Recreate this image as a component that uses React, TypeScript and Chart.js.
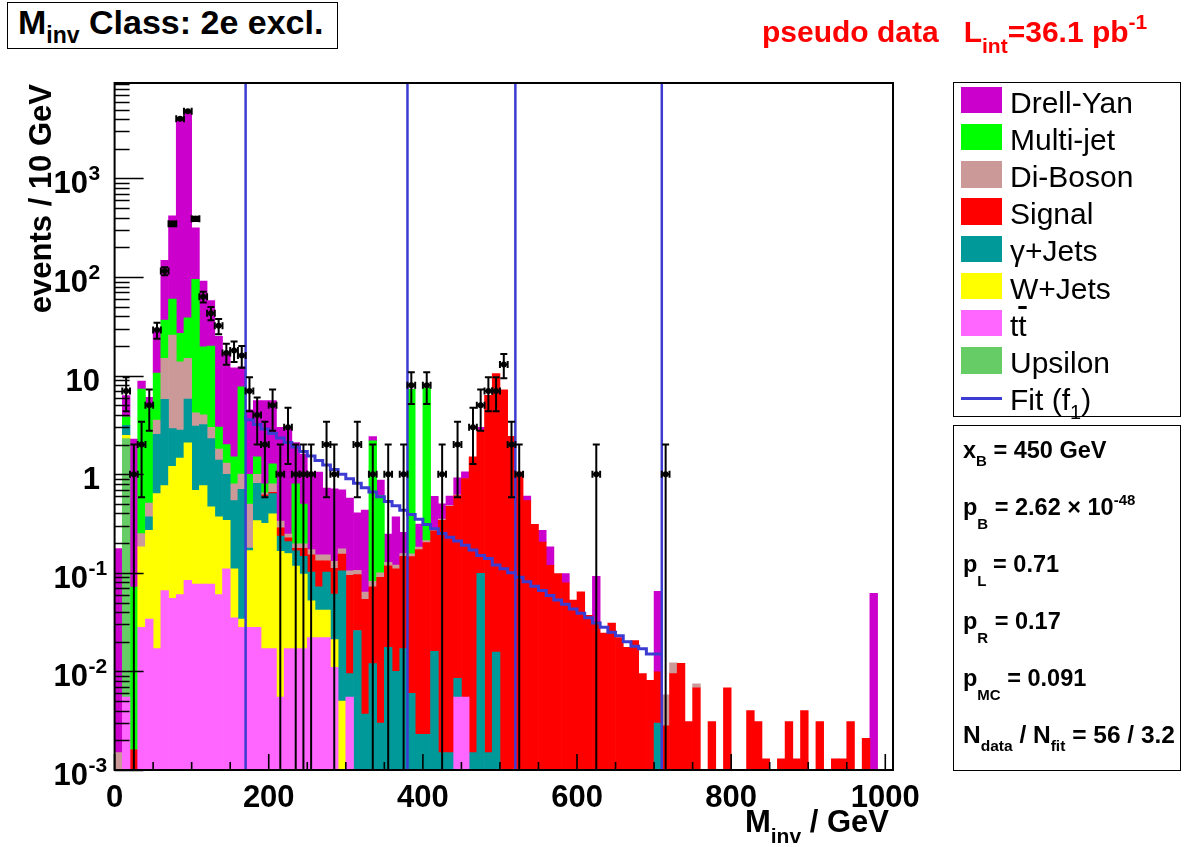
import React, { useEffect, useRef } from 'react';
import { Chart, registerables } from 'chart.js';

Chart.register(...registerables);

const FONT = '"Liberation Sans", Arial, Helvetica, sans-serif';
const BLUE = '#3c3cd2';

// 10 GeV bins, lower edges 0 ... 1000 GeV
const binLowEdges = Array.from({ length: 101 }, (_, i) => i * 10);
const X_MAX = 1010;
const Y_MIN = 1e-3;
const Y_MAX = 9300;

// Expected events per bin for each process
const ttbar = [
  0, 0.0055, 0, 0.028, 0.034, 0.017, 0.066, 0.055, 0.06, 0.084,
  0.077, 0.077, 0.077, 0.06, 0.11, 0.035, 0.028, 0.028, 0.028, 0.017,
  0.017, 0.0055, 0.017, 0.017, 0.017, 0.022, 0.022, 0.022, 0.011, 0,
  0.0055, 0, 0, 0, 0, 0, 0, 0, 0, 0,
  0, 0, 0, 0, 0.0055, 0.0055, 0, 0, 0, 0,
  0, 0, 0, 0, 0, 0, 0, 0, 0, 0,
  0, 0, 0, 0, 0, 0, 0, 0, 0, 0,
  0, 0, 0, 0, 0, 0, 0, 0, 0, 0,
  0, 0, 0, 0, 0, 0, 0, 0, 0, 0,
  0, 0, 0, 0, 0, 0, 0, 0, 0, 0,
  0,
];
const upsilon = [
  0, 2.29, 0, 0, 0, 0, 0, 0, 0, 0,
  0, 0, 0, 0, 0, 0, 0, 0, 0, 0,
  0, 0, 0, 0, 0, 0, 0, 0, 0, 0,
  0, 0, 0, 0, 0, 0, 0, 0, 0, 0,
  0, 0, 0, 0, 0, 0, 0, 0, 0, 0,
  0, 0, 0, 0, 0, 0, 0, 0, 0, 0,
  0, 0, 0, 0, 0, 0, 0, 0, 0, 0,
  0, 0, 0, 0, 0, 0, 0, 0, 0, 0,
  0, 0, 0, 0, 0, 0, 0, 0, 0, 0,
  0, 0, 0, 0, 0, 0, 0, 0, 0, 0,
  0,
];
const wJets = [
  0, 0.19, 0, 0.155, 0.236, 0.62, 0.7, 1.15, 1.4, 2.0,
  0.61, 0.69, 0.39, 0.31, 0.23, 0.075, 0.006, 0.14, 0.31, 0.3,
  0.38, 0.16, 0.14, 0.1, 0.08, 0.03, 0.02, 0.02, 0.01, 0.005,
  0, 0, 0, 0, 0, 0, 0, 0, 0, 0,
  0, 0, 0, 0, 0, 0, 0, 0, 0, 0,
  0, 0, 0, 0, 0, 0, 0, 0, 0, 0,
  0, 0, 0, 0, 0, 0, 0, 0, 0, 0,
  0, 0, 0, 0, 0, 0, 0, 0, 0, 0,
  0, 0, 0, 0, 0, 0, 0, 0, 0, 0,
  0, 0, 0, 0, 0, 0, 0, 0, 0, 0,
  0,
];
const gammaJets = [
  0, 0.65, 0, 0, 0.1, 1.9, 5.0, 1.7, 1.35, 3.7,
  2.4, 2.43, 1.83, 1.02, 0.66, 0.43, 0.67, 0.01, 0.47, 0.28,
  0.24, 0.07, 0.05, 0.05, 0.05, 0.05, 0.03, 0.06, 0.04, 0.1,
  0.004, 0.026, 0.0037, 0.012, 0.003, 0.0176, 0.01, 0.017, 0.006, 0.0023,
  0.0023, 0.016, 0.0015, 0.0015, 0.003, 0, 0.0015, 0.099, 0.0015, 0.0157,
  0, 0, 0, 0, 0, 0, 0, 0, 0, 0,
  0, 0, 0, 0, 0, 0, 0, 0, 0, 0,
  0.003, 0, 0, 0, 0, 0, 0, 0, 0, 0,
  0, 0, 0, 0, 0, 0, 0, 0, 0, 0,
  0, 0, 0, 0, 0, 0, 0, 0, 0, 0,
  0,
];
const signal = [
  0, 0, 0.0016, 0, 0, 0, 0, 0, 0, 0,
  0, 0, 0, 0, 0, 0, 0, 0, 0, 0.02,
  0.02, 0.05, 0.02, 0.01, 0.03, 0.05, 0.06, 0.03, 0.05, 0.05,
  0.085, 0.07, 0.05, 0.06, 0.087, 0.1, 0.1, 0.13, 0.14, 0.17,
  0.2, 0.25, 0.34, 0.47, 0.6, 0.9, 1.5, 2.7, 6.3, 10.5,
  7.2, 2.43, 1.05, 0.54, 0.31, 0.205, 0.119, 0.098, 0.079, 0.053,
  0.064, 0.037, 0.032, 0.0245, 0.031, 0.022, 0.0176, 0.0205, 0.0095, 0.0081,
  0.0069, 0.0028, 0.0095, 0.0121, 0.0031, 0.0068, 0, 0.0031, 0, 0.0068,
  0, 0, 0.004, 0.0031, 0.0013, 0, 0.0013, 0.0031, 0.0013, 0.004,
  0, 0.0031, 0, 0.0013, 0.0013, 0.0031, 0, 0.0021, 0, 0,
  0,
];
const diBoson = [
  0.0015, 0, 0, 0.067, 0.14, 1.0, 9.2, 22.9, 11, 9.2,
  1.1, 0.8, 0.7, 0.41, 0.3, 0.26, 0.3, 0.32, 0.19, 0.03,
  0.14, 0.05, 0.02, 0.02, 0.02, 0.02, 0.02, 0.02, 0.02, 0.02,
  0.01, 0.01, 0.01, 0.01, 0.01, 0.01, 0.01, 0.01, 0.01, 0.01,
  0.01, 0.01, 0.01, 0.01, 0.01, 0, 0, 0, 0, 0,
  0, 0, 0, 0, 0, 0, 0, 0, 0, 0,
  0, 0, 0, 0, 0, 0, 0, 0, 0, 0,
  0, 0.003, 0.0027, 0, 0, 0.0007, 0, 0, 0, 0,
  0, 0, 0, 0, 0, 0, 0, 0, 0, 0,
  0, 0, 0, 0, 0, 0, 0, 0, 0, 0,
  0,
];
const multiJet = [
  0, 0.68, 0.07, 7.05, 4.5, 7.1, 21.6, 34, 13, 23.6,
  90.8, 15.6, 16.9, 1.2, 0.7, 0.7, 6.7, 0.5, 0.5, 0.15,
  0.48, 0, 0, 0.6, 0.3, 0, 0, 0, 0, 0,
  0, 0, 0, 2.1, 0.51, 0, 0, 0, 7.1, 0,
  7.3, 0, 0, 0, 0, 0, 0, 0, 0, 0,
  0, 0, 0, 0, 0, 0, 0, 0, 0, 0,
  0, 0, 0, 0, 0, 0, 0, 0, 0, 0,
  0, 0, 0, 0, 0, 0, 0, 0, 0, 0,
  0, 0, 0, 0, 0, 0, 0, 0, 0, 0,
  0, 0, 0, 0, 0, 0, 0, 0, 0, 0,
  0,
];
const drellYan = [
  0.175, 2.48, 2.2, 1.5, 1.0, 19.4, 111, 357, 4073, 4711,
  221, 71.4, 38, 22, 15, 10.5, 4.6, 3.5, 4.1, 4.8,
  4.3, 2.66, 2.76, 1.3, 1.1, 0.88, 0.9, 0.57, 0.58, 0.52,
  0.47, 0.3, 0.37, 0.23, 0.26, 0.12, 0.25, 0.1, 0.05, 0.13,
  0.05, 0.32, 0.15, 0.12, 0.3, 0.15, 0, 0.2, 0, 0,
  0, 0, 0, 0.06, 0, 0.065, 0.064, 0, 0.019, 0,
  0, 0, 0.06, 0, 0, 0, 0, 0, 0, 0,
  0.055, 0, 0, 0, 0, 0, 0, 0, 0, 0,
  0, 0, 0, 0, 0, 0, 0, 0, 0, 0,
  0, 0, 0, 0, 0, 0, 0, 0, 0.062, 0,
  0,
];

// Pseudo-data counts per bin
const dataCounts = [
  0, 7, 1, 2, 5, 29, 115, 347, 4040, 4800,
  390, 63, 43, 32, 17, 18, 16, 7, 4, 2,
  5, 1, 3, 1, 1, 1, 0, 2, 1, 0,
  0, 2, 0, 1, 0, 1, 0, 1, 8, 0,
  8, 0, 1, 0, 2, 0, 3, 5, 7, 7,
  13, 2, 1, 0, 0, 0, 0, 0, 0, 0,
  0, 0, 1, 0, 0, 0, 0, 0, 0, 0,
  0, 1, 0, 0, 0, 0, 0, 0, 0, 0,
  0, 0, 0, 0, 0, 0, 0, 0, 0, 0,
  0, 0, 0, 0, 0, 0, 0, 0, 0, 0,
  0,
];

// Fitted function f1 per bin, 170 - 710 GeV
const fitLowEdges = binLowEdges.slice(17, 71);
const fitValues = [
  3.95, 3.56, 3.2, 2.88, 2.59, 2.33, 2.1, 1.89, 1.7, 1.53,
  1.38, 1.24, 1.12, 1.0, 0.9, 0.81, 0.73, 0.66, 0.59, 0.53,
  0.48, 0.43, 0.39, 0.35, 0.31, 0.28, 0.25, 0.23, 0.21, 0.19,
  0.17, 0.15, 0.14, 0.12, 0.11, 0.1, 0.09, 0.081, 0.073, 0.066,
  0.059, 0.053, 0.048, 0.043, 0.039, 0.035, 0.031, 0.028, 0.025, 0.023,
  0.02, 0.018, 0.017, 0.015,
];
const fitEnd = 710;

// Region boundaries drawn as vertical lines
const boundaries = [170, 380, 520, 710];

const xTickLabels = [0, 200, 400, 600, 800, 1000];
const yDecades = [-3, -2, -1, 0, 1, 2, 3];

// Stack from bottom to top
const stackSeries = [
  { label: 'ttbar', color: '#ff66ff', values: ttbar },
  { label: 'Upsilon', color: '#66cc66', values: upsilon },
  { label: 'W+Jets', color: '#ffff00', values: wJets },
  { label: 'γ+Jets', color: '#009999', values: gammaJets },
  { label: 'Signal', color: '#ff0000', values: signal },
  { label: 'Di-Boson', color: '#cc9999', values: diBoson },
  { label: 'Multi-jet', color: '#00ff00', values: multiJet },
  { label: 'Drell-Yan', color: '#cc00cc', values: drellYan },
];

const FIT_INDEX = stackSeries.length;
const DATA_INDEX = stackSeries.length + 1;

const legendEntries = [
  { key: 'dy', color: '#cc00cc', text: 'Drell-Yan' },
  { key: 'mj', color: '#00ff00', text: 'Multi-jet' },
  { key: 'db', color: '#cc9999', text: 'Di-Boson' },
  { key: 'sig', color: '#ff0000', text: 'Signal' },
  { key: 'gj', color: '#009999', text: 'γ+Jets' },
  { key: 'wj', color: '#ffff00', text: 'W+Jets' },
  { key: 'tt', color: '#ff66ff', text: 'tt' },
  { key: 'ups', color: '#66cc66', text: 'Upsilon' },
];

const rootStylePlugin = {
  id: 'rootStyle',
  beforeDatasetDraw(chart: any, args: any) {
    if (args.index !== FIT_INDEX) return;
    const { ctx, chartArea: a, scales } = chart;
    ctx.save();
    ctx.strokeStyle = BLUE;
    ctx.lineWidth = 2.5;
    for (const b of boundaries) {
      const px = scales.x.getPixelForValue(b);
      ctx.beginPath();
      ctx.moveTo(px, a.top);
      ctx.lineTo(px, a.bottom);
      ctx.stroke();
    }
    ctx.restore();
  },
  afterDatasetDraw(chart: any, args: any) {
    if (args.index !== DATA_INDEX) return;
    const { ctx, chartArea: a, scales } = chart;
    const x = scales.x;
    const y = scales.y;
    ctx.save();
    ctx.beginPath();
    ctx.rect(a.left, a.top, a.right - a.left, a.bottom - a.top);
    ctx.clip();
    ctx.strokeStyle = '#000';
    ctx.lineWidth = 2;
    dataCounts.forEach((n, i) => {
      if (!n) return;
      const err = Math.sqrt(n);
      const lo = binLowEdges[i];
      const cx = x.getPixelForValue(lo + 5);
      const xl = x.getPixelForValue(lo);
      const xr = x.getPixelForValue(lo + 10);
      const cy = y.getPixelForValue(n);
      const top = y.getPixelForValue(n + err);
      const lowVal = n - err;
      const bot = lowVal > 0 ? y.getPixelForValue(lowVal) : a.bottom;
      ctx.beginPath();
      ctx.moveTo(cx, top);
      ctx.lineTo(cx, bot);
      ctx.moveTo(xl, cy);
      ctx.lineTo(xr, cy);
      ctx.moveTo(cx - 3.5, top);
      ctx.lineTo(cx + 3.5, top);
      if (lowVal > 0) {
        ctx.moveTo(cx - 3.5, bot);
        ctx.lineTo(cx + 3.5, bot);
      }
      ctx.moveTo(xl, cy - 3.5);
      ctx.lineTo(xl, cy + 3.5);
      ctx.moveTo(xr, cy - 3.5);
      ctx.lineTo(xr, cy + 3.5);
      ctx.stroke();
    });
    ctx.restore();
  },
  afterDraw(chart: any) {
    const { ctx, chartArea: a, scales } = chart;
    const x = scales.x;
    const y = scales.y;
    ctx.save();
    // ticks
    ctx.strokeStyle = '#000';
    ctx.lineWidth = 1.6;
    ctx.beginPath();
    for (const e of yDecades) {
      for (let m = 1; m <= 9; m++) {
        const v = m * Math.pow(10, e);
        if (v > Y_MAX) break;
        const py = Math.round(y.getPixelForValue(v)) + 0.5;
        const len = m === 1 ? 29 : 15;
        ctx.moveTo(a.left, py);
        ctx.lineTo(a.left + len, py);
      }
    }
    for (let v = 0; v <= 1000; v += 50) {
      const px = x.getPixelForValue(v);
      const len = v % 200 === 0 ? 16 : 8;
      ctx.moveTo(px, a.bottom);
      ctx.lineTo(px, a.bottom - len);
    }
    ctx.stroke();
    // frame
    ctx.lineWidth = 2;
    ctx.strokeRect(a.left, a.top, a.right - a.left, a.bottom - a.top);

    // tick labels
    ctx.fillStyle = '#000';
    ctx.textBaseline = 'alphabetic';
    ctx.font = `bold 31px ${FONT}`;
    ctx.textAlign = 'center';
    for (const v of xTickLabels) {
      ctx.fillText(String(v), x.getPixelForValue(v), 807);
    }
    for (const e of yDecades) {
      const py = y.getPixelForValue(Math.pow(10, e));
      const base = py + 15;
      if (e === 0 || e === 1) {
        ctx.font = `bold 31px ${FONT}`;
        ctx.textAlign = 'right';
        ctx.fillText(e === 0 ? '1' : '10', 100, base);
      } else {
        ctx.font = `bold 31px ${FONT}`;
        ctx.textAlign = 'right';
        ctx.fillText('10', 88, base);
        ctx.font = `bold 21px ${FONT}`;
        ctx.textAlign = 'left';
        ctx.fillText(String(e), 88.5, base - 13);
      }
    }

    // x axis title, right aligned
    ctx.textAlign = 'left';
    ctx.font = `bold 31px ${FONT}`;
    const wM = ctx.measureText('M').width;
    const wRest = ctx.measureText(' / GeV').width;
    ctx.font = `bold 21px ${FONT}`;
    const wSub = ctx.measureText('inv').width;
    const xEnd = 889;
    const x0 = xEnd - wM - wSub - wRest;
    ctx.font = `bold 31px ${FONT}`;
    ctx.fillText('M', x0, 832);
    ctx.font = `bold 21px ${FONT}`;
    ctx.fillText('inv', x0 + wM, 843);
    ctx.font = `bold 31px ${FONT}`;
    ctx.fillText(' / GeV', x0 + wM + wSub, 832);

    // y axis title
    ctx.save();
    ctx.translate(51, 84);
    ctx.rotate(-Math.PI / 2);
    ctx.textAlign = 'right';
    ctx.font = `bold 31px ${FONT}`;
    ctx.fillText('events / 10 GeV', 0, 0);
    ctx.restore();

    ctx.restore();
  },
};

function TextAt(props: {
  x: number;
  baseline: number;
  size: number;
  bold?: boolean;
  color?: string;
  children: React.ReactNode;
}) {
  const { x, baseline, size, bold, color, children } = props;
  return (
    <div
      style={{
        position: 'absolute',
        left: x,
        top: baseline - 0.8465 * size,
        fontSize: size,
        lineHeight: `${size}px`,
        fontWeight: bold ? 'bold' : 'normal',
        fontFamily: FONT,
        color: color || '#000',
        whiteSpace: 'pre',
      }}
    >
      {children}
    </div>
  );
}

function Shift(props: { size: number; dy: number; children: React.ReactNode }) {
  return (
    <span style={{ fontSize: props.size, position: 'relative', top: props.dy, lineHeight: '0' }}>
      {props.children}
    </span>
  );
}

export default function App() {
  const canvasRef = useRef<HTMLCanvasElement | null>(null);

  useEffect(() => {
    const canvas = canvasRef.current;
    if (!canvas) return;
    const binCenters = binLowEdges.map((e) => e + 5);
    const barSets = stackSeries.map((s) => ({
      type: 'bar' as const,
      label: s.label,
      data: s.values.map((v, i) => ({ x: binCenters[i], y: v })),
      backgroundColor: s.color,
      borderWidth: 0,
      barPercentage: 1,
      categoryPercentage: 1,
      stack: 'mc',
      order: 2,
    }));
    const fitPoints = fitLowEdges.map((e, i) => ({ x: e, y: fitValues[i] }));
    fitPoints.push({ x: fitEnd, y: fitValues[fitValues.length - 1] });
    const fitSet = {
      type: 'line' as const,
      label: 'Fit (f1)',
      data: fitPoints,
      stepped: 'after' as const,
      borderColor: BLUE,
      borderWidth: 3,
      pointRadius: 0,
      fill: false,
      stack: 'fit',
      order: 1,
    };
    const dataSet = {
      type: 'line' as const,
      label: 'pseudo data',
      data: dataCounts
        .map((n, i) => ({ x: binCenters[i], y: n }))
        .filter((p) => p.y > 0),
      showLine: false,
      pointRadius: 3,
      pointBackgroundColor: '#000',
      pointBorderWidth: 0,
      stack: 'data',
      order: 0,
    };

    const chart = new Chart(canvas, {
      type: 'bar',
      data: { datasets: [...barSets, fitSet, dataSet] as any },
      options: {
        animation: false,
        responsive: false,
        devicePixelRatio: 1,
        layout: { padding: { left: 0, top: 83, right: 294, bottom: 0 } },
        plugins: { legend: { display: false }, tooltip: { enabled: false } },
        scales: {
          x: {
            type: 'linear',
            min: 0,
            max: X_MAX,
            offset: false,
            stacked: true,
            grid: { display: false },
            border: { display: false },
            ticks: { display: false, stepSize: 200 },
            afterFit: (s: any) => {
              s.height = 77;
            },
          },
          y: {
            type: 'logarithmic',
            min: Y_MIN,
            max: Y_MAX,
            stacked: true,
            grid: { display: false },
            border: { display: false },
            ticks: { display: false },
            afterFit: (s: any) => {
              s.width = 114.6;
            },
          },
        },
      } as any,
      plugins: [rootStylePlugin],
    });
    return () => chart.destroy();
  }, []);

  const legendTop = 82;
  return (
    <div style={{ position: 'absolute', left: 0, top: 0, width: 1187, height: 847, background: '#fff', overflow: 'hidden' }}>
      <canvas ref={canvasRef} width={1187} height={847} style={{ position: 'absolute', left: 0, top: 0, width: 1187, height: 847 }} />

      {/* title box */}
      <div style={{ position: 'absolute', left: 7, top: 2, width: 331, height: 47, border: '1.5px solid #000', boxSizing: 'border-box', background: '#fff' }} />
      <TextAt x={18} baseline={34} size={34} bold>
        M<Shift size={23} dy={9}>inv</Shift> Class: 2e excl.
      </TextAt>

      {/* luminosity label */}
      <TextAt x={762} baseline={42} size={30} bold color="#ff0000">
        {'pseudo data   L'}
        <Shift size={21} dy={11}>int</Shift>
        {'=36.1 pb'}
        <Shift size={21} dy={-13}>-1</Shift>
      </TextAt>

      {/* legend */}
      <div style={{ position: 'absolute', left: 953, top: legendTop, width: 228, height: 335, border: '1.5px solid #000', boxSizing: 'border-box', background: '#fff' }} />
      {legendEntries.map((e, i) => (
        <React.Fragment key={e.key}>
          <div style={{ position: 'absolute', left: 961, top: 86.7 + 37.2 * i, width: 41, height: 26.6, background: e.color }} />
          <TextAt x={1010} baseline={113 + 37.2 * i} size={30}>
            {e.key === 'tt' ? (
              <>
                t<span style={{ textDecoration: 'overline' }}>t</span>
              </>
            ) : (
              e.text
            )}
          </TextAt>
        </React.Fragment>
      ))}
      <div style={{ position: 'absolute', left: 961, top: 397, width: 41, height: 2.5, background: BLUE }} />
      <TextAt x={1010} baseline={410} size={30}>
        Fit (f<Shift size={20} dy={9}>1</Shift>)
      </TextAt>

      {/* fit summary box */}
      <div style={{ position: 'absolute', left: 953, top: 425, width: 228, height: 346, border: '1.5px solid #000', boxSizing: 'border-box', background: '#fff' }} />
      <TextAt x={963} baseline={459} size={23.5} bold>
        x<Shift size={15} dy={8}>B</Shift> = 450 GeV
      </TextAt>
      <TextAt x={963} baseline={516} size={23.5} bold>
        p<Shift size={15} dy={14}>B</Shift> = 2.62 {'\u00d7'} 10<Shift size={15} dy={-10}>-48</Shift>
      </TextAt>
      <TextAt x={963} baseline={573} size={23.5} bold>
        p<Shift size={15} dy={14}>L</Shift> = 0.71
      </TextAt>
      <TextAt x={963} baseline={630} size={23.5} bold>
        p<Shift size={15} dy={14}>R</Shift> = 0.17
      </TextAt>
      <TextAt x={963} baseline={687} size={23.5} bold>
        p<Shift size={15} dy={14}>MC</Shift> = 0.091
      </TextAt>
      <TextAt x={963} baseline={744} size={24.5} bold>
        N<Shift size={15.5} dy={8}>data</Shift> / N<Shift size={15.5} dy={8}>fit</Shift> = 56 / 3.2
      </TextAt>
    </div>
  );
}
